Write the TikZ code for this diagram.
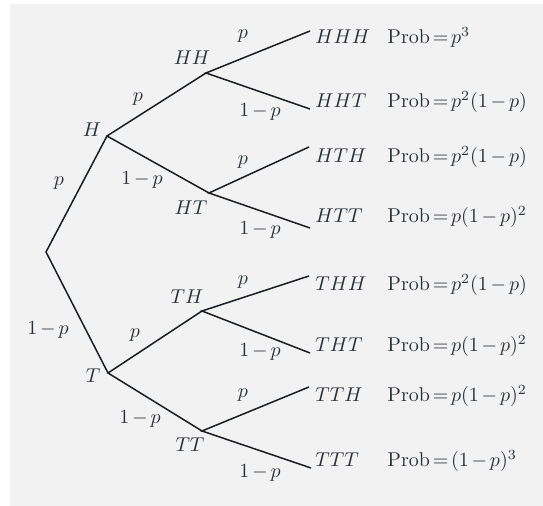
\documentclass[tikz,border=0pt]{standalone}
\usepackage{amsmath}
\definecolor{bgcol}{RGB}{242,242,242}
\definecolor{inkcol}{RGB}{24,30,36}
\definecolor{txtcol}{RGB}{40,50,58}
\thickmuskip=2.5mu plus 1mu
\medmuskip=2.5mu plus 1mu
\begin{document}
\begin{tikzpicture}[x=0.5pt,y=-0.5pt,
  branch/.style={draw=inkcol,line width=0.75pt},
  lab/.style={text=txtcol,inner sep=0pt,font=\normalsize},
  leaf/.style={text=txtcol,inner sep=0pt,anchor=base west}]
\useasboundingbox (0,0) rectangle (543,506);
\fill[bgcol] (10,4) rectangle (543,506);
% vertices
\coordinate (root) at (46,252);
\coordinate (nH) at (107,136);
\coordinate (nT) at (108,373);
\coordinate (nHH) at (206,73);
\coordinate (nHT) at (209,193);
\coordinate (nTH) at (202,311);
\coordinate (nTT) at (202,431);
\coordinate (lHHH) at (310,31);
\coordinate (lHHT) at (310,109);
\coordinate (lHTH) at (309,147);
\coordinate (lHTT) at (310,228);
\coordinate (lTHH) at (309,276);
\coordinate (lTHT) at (310,353);
\coordinate (lTTH) at (309,387);
\coordinate (lTTT) at (311,468);
% branches
\draw[branch] (nH) -- (root) -- (nT);
\draw[branch] (nHH) -- (nH) -- (nHT);
\draw[branch] (nTH) -- (nT) -- (nTT);
\draw[branch] (lHHH) -- (nHH) -- (lHHT);
\draw[branch] (lHTH) -- (nHT) -- (lHTT);
\draw[branch] (lTHH) -- (nTH) -- (lTHT);
\draw[branch] (lTTH) -- (nTT) -- (lTTT);
% vertex labels
\node[lab] (tH) at (92,130) {$H$};
\node[lab] (tHH) at (192,58) {$HH$};
\node[lab] (tHT) at (191,208) {$HT$};
\node[lab] (tT) at (93,376) {$T$};
\node[lab] (tTH) at (187,297) {$TH$};
\node[lab] (tTT) at (190,445) {$TT$};
% edge labels
\node[lab] (e1) at (59,183) {$p$};
\node[lab] (e2) at (48,330) {$1-p$};
\node[lab] (e3) at (138,99) {$p$};
\node[lab] (e4) at (142,180) {$1-p$};
\node[lab] (e5) at (135,335) {$p$};
\node[lab] (e6) at (140,419) {$1-p$};
\node[lab] (e7) at (243,36) {$p$};
\node[lab] (e8) at (260,112) {$1-p$};
\node[lab] (e9) at (243,162) {$p$};
\node[lab] (e10) at (260,230) {$1-p$};
\node[lab] (e11) at (243,282) {$p$};
\node[lab] (e12) at (260,352) {$1-p$};
\node[lab] (e13) at (243,395) {$p$};
\node[lab] (e14) at (260,473) {$1-p$};
% leaf labels
\node[leaf] (sHHH) at (315,43.5) {$HHH$};
\node[leaf] (sHHT) at (315,108) {$HHT$};
\node[leaf] (sHTH) at (315,163) {$HTH$};
\node[leaf] (sHTT) at (315,223) {$HTT$};
\node[leaf] (sTHH) at (315,291) {$THH$};
\node[leaf] (sTHT) at (315,352) {$THT$};
\node[leaf] (sTTH) at (315,402) {$TTH$};
\node[leaf] (sTTT) at (315,467) {$TTT$};
\node[leaf] (pHHH) at (387,43.5) {Prob${}=p^3$};
\node[leaf] (pHHT) at (387,108) {Prob${}=p^2(1-p)$};
\node[leaf] (pHTH) at (387,163) {Prob${}=p^2(1-p)$};
\node[leaf] (pHTT) at (387,223) {Prob${}=p(1-p)^2$};
\node[leaf] (pTHH) at (387,291) {Prob${}=p^2(1-p)$};
\node[leaf] (pTHT) at (387,352) {Prob${}=p(1-p)^2$};
\node[leaf] (pTTH) at (387,402) {Prob${}=p(1-p)^2$};
\node[leaf] (pTTT) at (387,467) {Prob${}=(1-p)^3$};
\end{tikzpicture}
\end{document}
